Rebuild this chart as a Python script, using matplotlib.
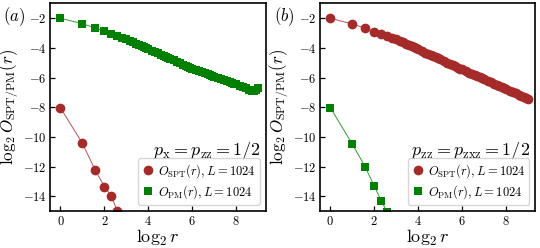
import numpy as np
import matplotlib
matplotlib.use("Agg")
import matplotlib.pyplot as plt

plt.rcParams['font.family'] = 'serif'
plt.rcParams['font.serif'] = ['cmr10', 'DejaVu Serif']
plt.rcParams['mathtext.fontset'] = 'cm'
plt.rcParams['axes.formatter.use_mathtext'] = True
plt.rcParams['axes.unicode_minus'] = True

# distances r (log2 r on the x axis)
r_slow = [1, 2, 3, 4, 5, 6, 7, 8, 9, 10, 11, 12, 13, 14, 15, 16,
          18, 20, 22, 24, 26, 28, 30, 32, 36, 40, 44, 48, 52, 56, 60, 64,
          72, 80, 88, 96, 104, 112, 120, 128, 144, 160, 176, 192, 208, 224, 240, 256,
          288, 320, 352, 384, 416, 448, 480, 512]
r_fast = [1, 2, 3, 4, 5, 6, 7]

# panel (a): p_x = p_zz = 1/2
a_pm = [-2.00, -2.36, -2.65, -2.87, -3.03, -3.18, -3.31, -3.42,
        -3.53, -3.63, -3.72, -3.80, -3.88, -3.95, -4.01, -4.07,
        -4.18, -4.28, -4.37, -4.45, -4.53, -4.60, -4.67, -4.73,
        -4.84, -4.94, -5.03, -5.12, -5.19, -5.27, -5.34, -5.40,
        -5.49, -5.57, -5.64, -5.71, -5.77, -5.83, -5.88, -5.93,
        -6.02, -6.10, -6.17, -6.24, -6.30, -6.35, -6.41, -6.45,
        -6.54, -6.62, -6.72, -6.82, -6.88, -6.90, -6.82, -6.72]
a_spt = [-8.03, -10.43, -12.24, -13.35, -13.98, -15.0, -15.8]

# panel (b): p_zz = p_zxz = 1/2
b_spt = [-2.00, -2.38, -2.66, -2.90, -3.05, -3.19, -3.31, -3.42,
         -3.53, -3.63, -3.72, -3.81, -3.89, -3.96, -4.03, -4.09,
         -4.20, -4.31, -4.40, -4.49, -4.57, -4.64, -4.71, -4.77,
         -4.89, -4.99, -5.08, -5.17, -5.25, -5.32, -5.39, -5.45,
         -5.56, -5.66, -5.75, -5.83, -5.91, -5.98, -6.05, -6.11,
         -6.22, -6.32, -6.41, -6.49, -6.56, -6.63, -6.70, -6.76,
         -6.87, -6.97, -7.06, -7.15, -7.22, -7.29, -7.36, -7.42]
b_pm = [-8.03, -10.48, -12.01, -13.30, -14.32, -15.06, -15.9]

red = '#a52a2a'
green = '#008000'

x_slow = np.log2(r_slow)
x_fast = np.log2(r_fast)

fig = plt.figure(figsize=(5.4, 2.48), dpi=100)
ax_a = fig.add_axes([0.0935, 0.149, 0.399, 0.840])
ax_b = fig.add_axes([0.5935, 0.149, 0.398, 0.840])

panels = [
    (ax_a, x_fast, a_spt, x_slow, a_pm, r'$p_{\rm x} = p_{\rm zz} = 1/2$', r'$(a)$'),
    (ax_b, x_slow, b_spt, x_fast, b_pm, r'$p_{\rm zz} = p_{\rm zxz} = 1/2$', r'$(b)$'),
]

for ax, xs, spt, xp, pm, title, tag in panels:
    # thin connecting lines, then markers on top
    ax.plot(xs, spt, '-', color=red, lw=0.7, alpha=0.8)
    ax.plot(xp, pm, '-', color=green, lw=0.7, alpha=0.8)
    ax.plot(xs, spt, 'o', color=red, ms=7.0, mew=0,
            label=r'$O_{\rm SPT}(r), L=1024$')
    ax.plot(xp, pm, 's', color=green, ms=6.2, mew=0,
            label=r'$O_{\rm PM}(r), L=1024$')
    ax.set_xlim(-0.45, 9.35)
    ax.set_ylim(-15, -0.95)
    ax.set_xticks([0, 2, 4, 6, 8])
    ax.set_yticks([-14, -12, -10, -8, -6, -4, -2])
    ax.tick_params(direction='in', length=3.5, width=0.9, labelsize=9, pad=3)
    for sp in ax.spines.values():
        sp.set_linewidth(1.2)
    ax.set_xlabel(r'$\log_2 r$', fontsize=13, labelpad=0)
    ax.set_ylabel(r'$\log_2 O_{\rm SPT/PM}(r)$', fontsize=12.3)
    ax.yaxis.set_label_coords(-0.137, 0.5)
    ax.legend(loc='lower right', fontsize=9, handletextpad=0.3, borderpad=0.3,
              labelspacing=0.3, handlelength=1.0, borderaxespad=0.5,
              framealpha=0.8)
    ax.text(0.975, 0.235, title, transform=ax.transAxes, ha='right', va='bottom',
            fontsize=13)
    ax.text(-0.167, 0.935, tag, transform=ax.transAxes, ha='center', va='center',
            fontsize=12)

fig.savefig('out.png', dpi=100)
